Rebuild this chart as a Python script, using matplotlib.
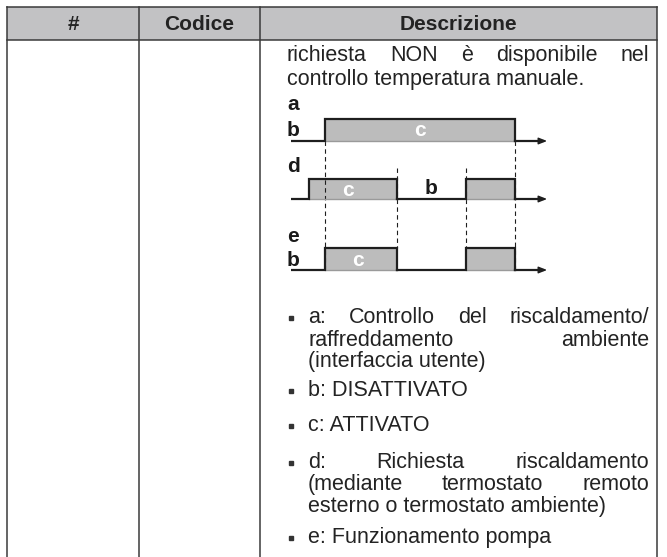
import matplotlib
matplotlib.use("Agg")
import matplotlib.pyplot as plt
from matplotlib.patches import Rectangle

# ---------------- data ----------------
headers = ["#", "Codice", "Descrizione"]
intro_lines = ["richiesta NON è disponibile nel", "controllo temperatura manuale."]
intro_justify = [True, False]

bullet_items = [
    ["a: Controllo del riscaldamento/", "raffreddamento ambiente", "(interfaccia utente)"],
    ["b: DISATTIVATO"],
    ["c: ATTIVATO"],
    ["d: Richiesta riscaldamento", "(mediante termostato remoto", "esterno o termostato ambiente)"],
    ["e: Funzionamento pompa"],
]
bullet_justify = [
    [True, True, False],
    [False],
    [False],
    [True, True, False],
    [False],
]

# timing diagram (time units 0..10)
t_end = 10.0
sig_a = [(1.33, 8.75)]
sig_d = [(0.70, 4.14), (6.84, 8.75)]
sig_e = [(1.33, 4.14), (6.84, 8.75)]
dash_long = [1.33, 8.75]
dash_short = [4.14, 6.84]

# ---------------- layout ----------------
W, H = 667, 557
fig = plt.figure(figsize=(W / 100, H / 100), dpi=100)
ax = fig.add_axes([0, 0, 1, 1])
ax.set_xlim(0, W)
ax.set_ylim(H, 0)
ax.axis("off")
ax.set_zorder(5)

FONT = "Liberation Sans"
FS = 15.5
LINE = "#3a3a3a"
HEAD = "#c2c2c4"
FILL = "#bcbcbc"
TXT = "#232323"
BL = 5.6  # offset from visual line centre to baseline

cols = [7, 139, 260, 657]
top, hbot = 7, 40

ax.add_patch(Rectangle((cols[0], top), cols[-1] - cols[0], hbot - top,
                       facecolor=HEAD, edgecolor="none", zorder=0))
ax.plot([cols[0], cols[-1]], [top, top], color=LINE, lw=1.1)
ax.plot([cols[0], cols[-1]], [hbot, hbot], color=LINE, lw=1.1)
for x in cols:
    ax.plot([x, x], [top, H + 2], color=LINE, lw=1.1)

for i, h in enumerate(headers):
    ax.text((cols[i] + cols[i + 1]) / 2, 24 + BL, h, ha="center", va="baseline",
            fontsize=15, fontweight="bold", family=FONT, color=TXT)

fig.canvas.draw()
renderer = fig.canvas.get_renderer()


def width_of(s, **kw):
    t = ax.text(0, 0, s, **kw)
    bb = t.get_window_extent(renderer)
    t.remove()
    return bb.width


def put_line(s, x0, x1, y, justify, **kw):
    yb = y + BL
    if not justify:
        ax.text(x0, yb, s, ha="left", va="baseline", **kw)
        return
    words = s.split(" ")
    ws = [width_of(w, **kw) for w in words]
    gap = (x1 - x0 - sum(ws)) / (len(words) - 1)
    x = x0
    for w, wd in zip(words, ws):
        ax.text(x, yb, w, ha="left", va="baseline", **kw)
        x += wd + gap


tkw = dict(fontsize=FS, family=FONT, color=TXT)

intro_y = [55, 79]
for s, y, j in zip(intro_lines, intro_y, intro_justify):
    put_line(s, 287, 649, y, j, **tkw)

bullet_y = [[317, 340, 361], [390], [425], [462, 484, 506], [537]]
for lines, ys, js in zip(bullet_items, bullet_y, bullet_justify):
    ax.plot([291], [ys[0] + 1], marker="s", markersize=3.0, color="#333333", lw=0)
    for s, y, j in zip(lines, ys, js):
        put_line(s, 308, 649, y, j, **tkw)

# ---------------- timing diagram ----------------
x0p, x1p = 291, 547
dax = fig.add_axes([x0p / W, 0, (x1p - x0p) / W, 1])
dax.set_xlim(0, t_end)
dax.set_ylim(H, 0)
dax.axis("off")
dax.patch.set_alpha(0)
dax.set_zorder(1)

levels = {"a": (141, 119), "d": (199, 179), "e": (270, 248)}
DARK = "#1e1e1e"


def draw_signal(segs, base, high):
    for (r, f) in segs:
        dax.fill_between([r, f], base, high, color=FILL, lw=0, zorder=1)
        dax.plot([r, f], [base, base], color="#9a9a9a", lw=1.0, zorder=3)
    px, py = [0], [base]
    for (r, f) in segs:
        px += [r, r, f, f]
        py += [base, high, high, base]
        dax.plot(px, py, color=DARK, lw=1.6, zorder=4, solid_joinstyle="miter")
        px, py = [f], [base]
    px.append(t_end - 0.15)
    py.append(base)
    dax.plot(px, py, color=DARK, lw=1.6, zorder=4)
    dax.annotate("", xy=(t_end, base), xytext=(t_end - 0.3, base),
                 arrowprops=dict(arrowstyle="-|>,head_length=0.5,head_width=0.2",
                                 color=DARK, lw=1.0, shrinkA=0, shrinkB=0), zorder=5)


draw_signal(sig_a, *levels["a"])
draw_signal(sig_d, *levels["d"])
draw_signal(sig_e, *levels["e"])

for t in dash_long:
    dax.plot([t, t], [141, 270], color=DARK, lw=0.8, ls=(0, (4, 3)), zorder=2)
for t in dash_short:
    dax.plot([t, t], [168, 248], color=DARK, lw=0.8, ls=(0, (4, 3)), zorder=2)

lkw = dict(fontsize=15, fontweight="bold", family=FONT, color="#1a1a1a")
for lab, y in [("a", 104), ("b", 130), ("d", 167), ("e", 237), ("b", 260)]:
    ax.text(287, y, lab, ha="left", va="center", **lkw)
ax.text(431, 189, "b", ha="center", va="center", **lkw)

ckw = dict(fontsize=15, fontweight="bold", family=FONT, color="white")
ax.text(420, 131, "c", ha="center", va="center", **ckw)
ax.text(348, 190, "c", ha="center", va="center", **ckw)
ax.text(358, 260, "c", ha="center", va="center", **ckw)

fig.savefig("out.png", dpi=100)
